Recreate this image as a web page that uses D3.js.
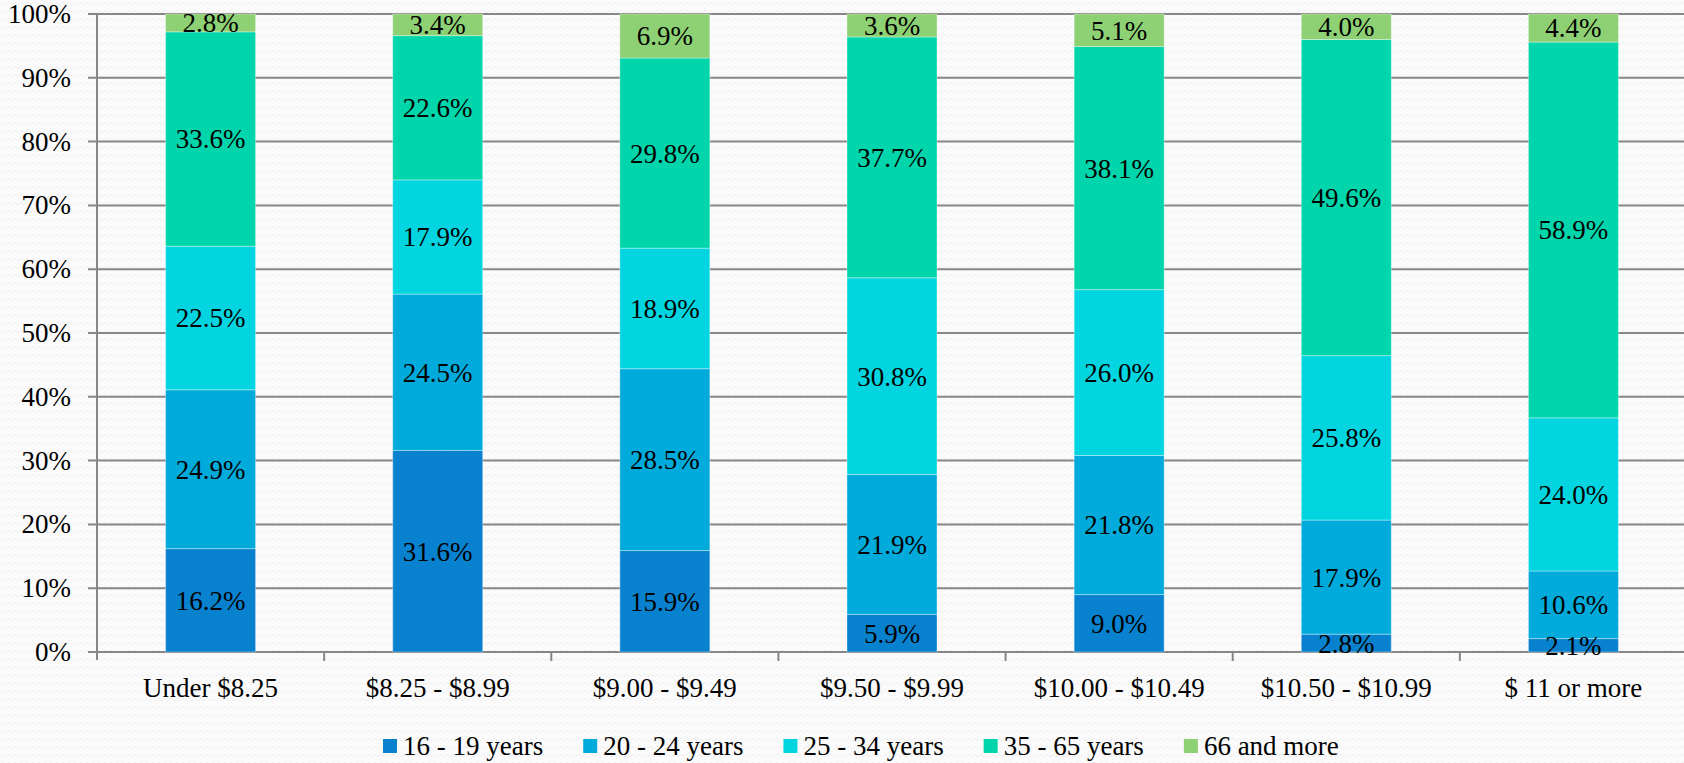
<!DOCTYPE html>
<html>
<head>
	<script src="https://d3js.org/d3.v7.min.js"></script>
	<title>Wage bands by age</title>
	<style>
		html, body { margin: 0; padding: 0; background: #fafafa; }
		svg { display: block; }
		text { font-family: "Liberation Serif", "DejaVu Serif", serif; fill: #000; }
	</style>
</head>
<body>
	<svg id="chart" width="1684" height="763"></svg>
	<script>
		// data
		const categories = ["Under $8.25", "$8.25 - $8.99", "$9.00 - $9.49", "$9.50 - $9.99", "$10.00 - $10.49", "$10.50 - $10.99", "$ 11 or more"];
		const seriesNames = ["16 - 19 years", "20 - 24 years", "25 - 34 years", "35 - 65 years", "66 and more"];
		const age16to19 = [16.2, 31.6, 15.9, 5.9, 9.0, 2.8, 2.1];
		const age20to24 = [24.9, 24.5, 28.5, 21.9, 21.8, 17.9, 10.6];
		const age25to34 = [22.5, 17.9, 18.9, 30.8, 26.0, 25.8, 24.0];
		const age35to65 = [33.6, 22.6, 29.8, 37.7, 38.1, 49.6, 58.9];
		const age66plus = [2.8, 3.4, 6.9, 3.6, 5.1, 4.0, 4.4];
		const yTicks = [0, 0.1, 0.2, 0.3, 0.4, 0.5, 0.6, 0.7, 0.8, 0.9, 1.0];
		const colors = ["#0882cf", "#00abdc", "#03d5e0", "#00d5ab", "#8ed174"];

		const seriesValues = [age16to19, age20to24, age25to34, age35to65, age66plus];
		const fontSize = "27px";

		// one row per category, normalised to 100%
		const rows = categories.map((c, i) => {
			const row = { cat: c };
			const total = d3.sum(seriesValues, s => s[i]);
			seriesNames.forEach((n, k) => { row[n] = seriesValues[k][i] / total; row[n + "_raw"] = seriesValues[k][i]; });
			return row;
		});

		const svg = d3.select("#chart");

		// subtle wavy background texture
		const defs = svg.append("defs");
		const pat = defs.append("pattern")
			.attr("id", "bg")
			.attr("width", 12).attr("height", 8)
			.attr("patternUnits", "userSpaceOnUse");
		pat.append("rect").attr("width", 12).attr("height", 8).attr("fill", "#fbfbfb");
		pat.append("path")
			.attr("d", "M0,5 L3,2 L6,5 L9,2 L12,5")
			.attr("fill", "none").attr("stroke", "#efefef").attr("stroke-width", 1);
		svg.append("rect").attr("width", 1684).attr("height", 763).attr("fill", "url(#bg)");

		const mLeft = 97, mTop = 14, mBottom = 652, mRight = 1687;

		const x = d3.scaleBand()
			.domain(categories)
			.range([mLeft, mRight])
			.paddingInner(0)
			.paddingOuter(0);

		const y = d3.scaleLinear()
			.domain([0, 1])
			.range([mBottom, mTop]);

		// gridlines
		svg.append("g")
			.selectAll("line")
			.data(yTicks)
			.join("line")
			.attr("x1", mLeft - 9)
			.attr("x2", 1684)
			.attr("y1", d => y(d))
			.attr("y2", d => y(d))
			.attr("stroke", "#878787")
			.attr("stroke-width", 2);

		// y axis line
		svg.append("line")
			.attr("x1", mLeft).attr("x2", mLeft)
			.attr("y1", mTop).attr("y2", mBottom + 8)
			.attr("stroke", "#878787").attr("stroke-width", 2);

		// x axis ticks at band edges
		svg.append("g")
			.selectAll("line")
			.data(categories.slice(1))
			.join("line")
			.attr("x1", d => x(d)).attr("x2", d => x(d))
			.attr("y1", mBottom).attr("y2", mBottom + 9)
			.attr("stroke", "#878787").attr("stroke-width", 2);

		// y tick labels
		svg.append("g")
			.selectAll("text")
			.data(yTicks)
			.join("text")
			.attr("x", 71)
			.attr("y", d => y(d))
			.attr("dy", "0.33em")
			.attr("text-anchor", "end")
			.style("font-size", fontSize)
			.text(d3.format(".0%"));

		// stacked bars
		const stack = d3.stack().keys(seriesNames);
		const layers = stack(rows);
		const barW = 90;

		const layerG = svg.append("g")
			.selectAll("g")
			.data(layers)
			.join("g")
			.attr("fill", (d, i) => colors[i]);

		layerG.selectAll("rect")
			.data(d => d)
			.join("rect")
			.attr("x", d => x(d.data.cat) + x.bandwidth() / 2 - barW / 2)
			.attr("width", barW)
			.attr("y", d => y(d[1]))
			.attr("height", d => y(d[0]) - y(d[1]))
			.attr("stroke", "rgba(255,255,255,0.35)")
			.attr("stroke-width", 1);

		// value labels
		layers.forEach((layer, k) => {
			svg.append("g")
				.selectAll("text")
				.data(layer)
				.join("text")
				.attr("x", d => x(d.data.cat) + x.bandwidth() / 2)
				.attr("y", d => y((d[0] + d[1]) / 2))
				.attr("dy", "0.35em")
				.attr("text-anchor", "middle")
				.style("font-size", fontSize)
				.text(d => d.data[seriesNames[k] + "_raw"].toFixed(1) + "%");
		});

		// category labels
		svg.append("g")
			.selectAll("text")
			.data(categories)
			.join("text")
			.attr("x", d => x(d) + x.bandwidth() / 2)
			.attr("y", 697)
			.attr("text-anchor", "middle")
			.style("font-size", fontSize)
			.text(d => d);

		// legend
		const legend = svg.append("g");
		let lx = 383;
		seriesNames.forEach((n, i) => {
			const item = legend.append("g").attr("transform", `translate(${lx},0)`);
			item.append("rect")
				.attr("x", 0).attr("y", 739)
				.attr("width", 14).attr("height", 14)
				.attr("fill", colors[i]);
			const t = item.append("text")
				.attr("x", 20).attr("y", 755)
				.style("font-size", fontSize)
				.text(n);
			lx += 20 + t.node().getComputedTextLength() + 40;
		});
	</script>
</body>
</html>
